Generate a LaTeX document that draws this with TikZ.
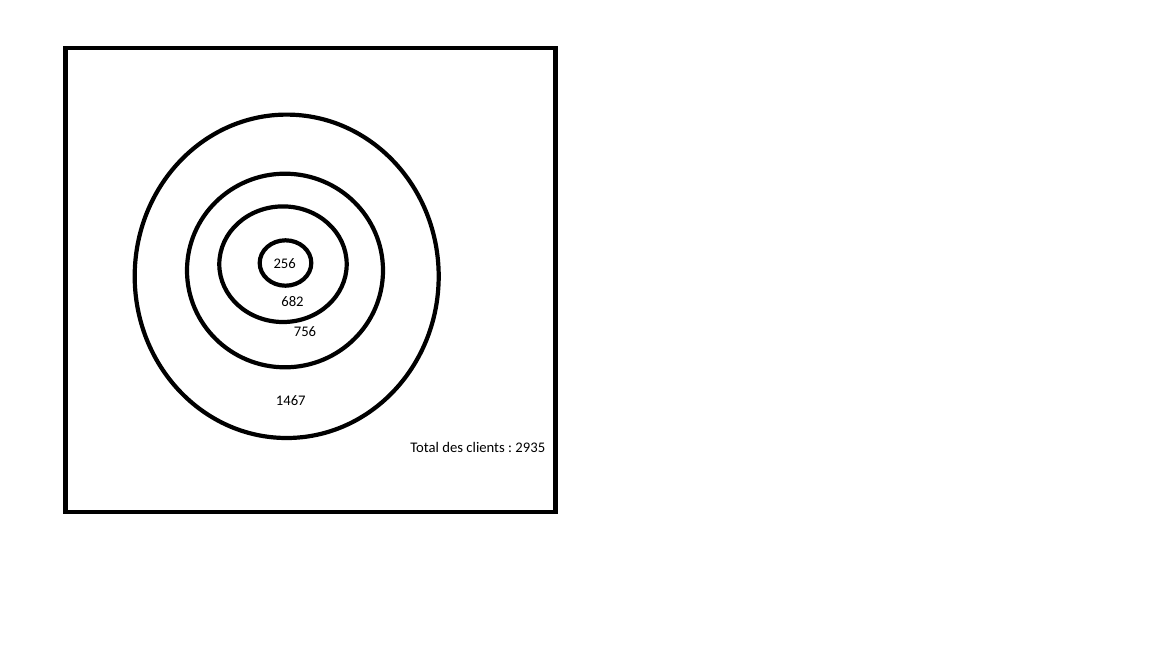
\documentclass[tikz,border=0pt]{standalone}
\usepackage{fontspec}
\setmainfont{Carlito}
\frenchspacing
\begin{document}
\begin{tikzpicture}[x=1pt,y=-1pt,
  ring/.style={draw=black,line width=4.2pt},
  lbl/.style={inner sep=0pt,anchor=center,font=\fontsize{14.67}{16}\selectfont,text=black}]
\useasboundingbox[fill=white] (0,0) rectangle (1152,648);
\draw[line width=4.6pt] (65.3,48) rectangle (555.5,512);
\draw[ring] (286.7,276.3) ellipse [x radius=152, y radius=161.7];
\draw[ring] (285,270.5) ellipse [x radius=98, y radius=96.8];
\draw[ring] (283,264.2) ellipse [x radius=63.7, y radius=57.8];
\draw[ring] (285.5,263) ellipse [x radius=25.8, y radius=22.7];
\node[lbl] (n256) at (284.7,263.5) {256};
\node[lbl] (n682) at (292.5,301.3) {682};
\node[lbl] (n756) at (305,332) {756};
\node[lbl] (n1467) at (290.8,400.3) {1467};
\node[lbl] (total) at (477.8,447) {Total des clients : 2935};
\end{tikzpicture}
\end{document}
